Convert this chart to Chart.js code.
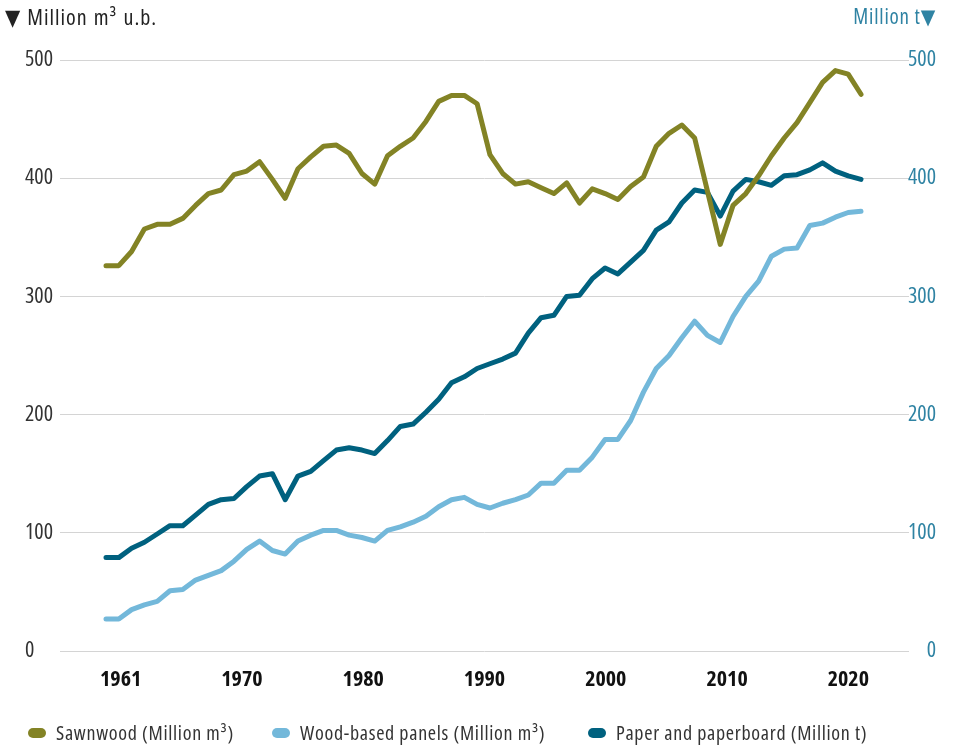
<!DOCTYPE html>
<html>
<head>
<meta charset="utf-8">
<script src="https://cdn.jsdelivr.net/npm/chart.js@4.4.1/dist/chart.umd.min.js"></script>
<style>
  html, body { margin: 0; padding: 0; background: #ffffff; }
  #wrap { position: relative; width: 959px; height: 746px; font-family: "Open Sans", "DejaVu Sans Condensed", sans-serif; font-stretch: 75%; }
  #wrap canvas { position: absolute; left: 0; top: 0; }
  .ttl { position: absolute; top: 3px; font-size: 21px; line-height: 26px; letter-spacing: 0.8px; white-space: nowrap; }
  #tl { left: 5px; color: #222222; font-size: 22px; letter-spacing: 1px; word-spacing: 1px; }
  #tr { right: 23px; color: #2f83a3; }
  .leg { position: absolute; top: 720px; font-size: 20px; line-height: 26px; letter-spacing: 0.7px; color: #333333; white-space: nowrap; }
  .leg i { display: inline-block; width: 18px; height: 10px; border-radius: 5px; margin-right: 10px; vertical-align: 2px; }
</style>
</head>
<body>
<div id="wrap">
  <canvas id="c" width="959" height="746"></canvas>
  <div class="ttl" id="tl">▼ Million m³ u.b.</div>
  <div class="ttl" id="tr">Million t▼</div>
  <div class="leg" style="left:28px"><i style="background:#838325"></i>Sawnwood (Million m³)</div>
  <div class="leg" style="left:272px"><i style="background:#73b8da"></i>Wood-based panels (Million m³)</div>
  <div class="leg" style="left:588px"><i style="background:#00617f"></i>Paper and paperboard (Million t)</div>
</div>
<script>
const years = [1961,1962,1963,1964,1965,1966,1967,1968,1969,1970,
  1971,1972,1973,1974,1975,1976,1977,1978,1979,1980,
  1981,1982,1983,1984,1985,1986,1987,1988,1989,1990,
  1991,1992,1993,1994,1995,1996,1997,1998,1999,2000,
  2001,2002,2003,2004,2005,2006,2007,2008,2009,2010,
  2011,2012,2013,2014,2015,2016,2017,2018,2019,2020];

const tickYears = ['1961','1970','1980','1990','2000','2010','2020'];

const sawnwood = [326,326,338,357,361,361,366,377,387,390,
  403,406,414,399,383,408,418,427,428,421,
  404,395,419,427,434,448,465,470,470,463,
  420,404,395,397,392,387,396,379,391,387,
  382,393,401,427,438,445,434,389,344,377,
  387,402,419,434,447,464,481,491,488,471];

const panels = [27,27,35,39,42,51,52,60,64,68,
  76,86,93,85,82,93,98,102,102,98,
  96,93,102,105,109,114,122,128,130,124,
  121,125,128,132,142,142,153,153,164,179,
  179,195,219,239,250,265,279,267,261,283,
  300,313,334,340,341,360,362,367,371,372];

const paper = [79,79,87,92,99,106,106,115,124,128,
  129,139,148,150,128,148,152,161,170,172,
  170,167,178,190,192,202,213,227,232,239,
  243,247,252,269,282,284,300,301,315,324,
  319,329,339,356,363,379,390,388,368,389,
  399,397,394,402,403,407,413,406,402,399];

function pts(vals) { return years.map((yr, i) => ({ x: yr, y: vals[i] })); }

const FONT = '"Open Sans", "DejaVu Sans Condensed", sans-serif';
const noClip = (s) => { s._computeLabelArea = () => undefined; };

new Chart(document.getElementById('c'), {
  type: 'line',
  data: {
    datasets: [
      { label: 'Sawnwood (Million m³)', data: pts(sawnwood), borderColor: '#838325', backgroundColor: '#838325', yAxisID: 'y', xAxisID: 'x' },
      { label: 'Wood-based panels (Million m³)', data: pts(panels), borderColor: '#73b8da', backgroundColor: '#73b8da', yAxisID: 'y', xAxisID: 'x' },
      { label: 'Paper and paperboard (Million t)', data: pts(paper), borderColor: '#00617f', backgroundColor: '#00617f', yAxisID: 'y2', xAxisID: 'x' }
    ]
  },
  options: {
    responsive: false,
    animation: false,
    layout: { padding: { left: 25, right: 23, top: 60, bottom: 60 } },
    elements: {
      line: { borderWidth: 5, tension: 0, borderCapStyle: 'round', borderJoinStyle: 'round', fill: false },
      point: { radius: 0, hoverRadius: 0 }
    },
    plugins: { legend: { display: false }, tooltip: { enabled: false } },
    scales: {
      x: {
        type: 'linear', display: false, min: 1957.405, max: 2023.751
      },
      xl: {
        type: 'category', position: 'bottom', labels: tickYears, offset: true,
        grid: { display: false }, border: { display: false },
        ticks: { color: '#111111', padding: 8, font: { family: FONT, size: 22, weight: 'bold condensed' }, maxRotation: 0, autoSkip: false },
        afterFit: (s) => { s.height = 35; },
        afterUpdate: noClip
      },
      y: {
        position: 'left', min: 0, max: 500,
        ticks: { stepSize: 100, color: '#333333', crossAlign: 'far', padding: 6, font: { family: FONT, size: 22, weight: 'condensed' } },
        grid: { color: '#d4d4d4', lineWidth: 1, drawTicks: false },
        border: { display: false },
        afterFit: (s) => { s.width = 35; },
        afterUpdate: noClip
      },
      y2: {
        position: 'right', min: 0, max: 500,
        ticks: { stepSize: 100, color: '#2f83a3', crossAlign: 'far', padding: 6, font: { family: FONT, size: 22, weight: 'condensed' } },
        grid: { display: false, drawTicks: false },
        border: { display: false },
        afterFit: (s) => { s.width = 27; },
        afterUpdate: noClip
      }
    }
  }
});
</script>
</body>
</html>
